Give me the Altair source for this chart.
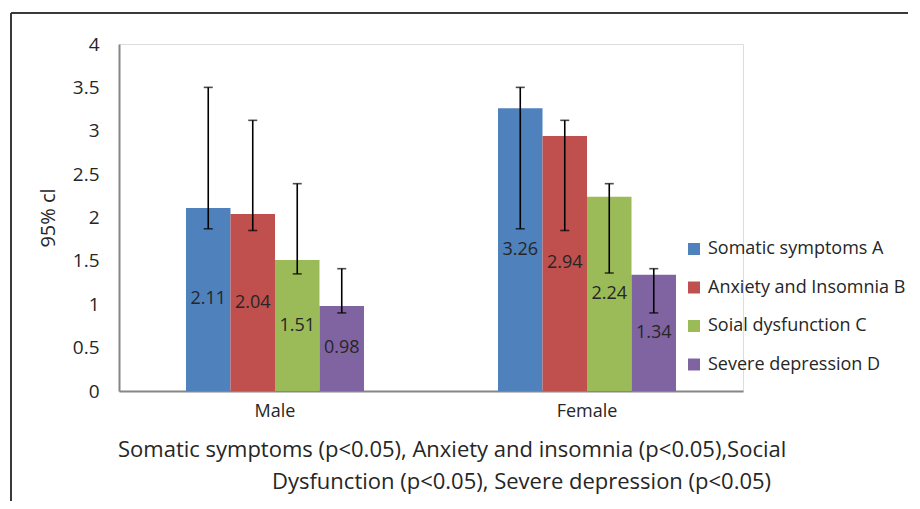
import altair as alt
import pandas as pd

groups = ["Male", "Female"]
series = ["Somatic symptoms A", "Anxiety and Insomnia B", "Soial dysfunction C", "Severe depression D"]
colors = ["#4F81BD", "#C0504D", "#9BBB59", "#8064A2"]
male_vals = [2.11, 2.04, 1.51, 0.98]
female_vals = [3.26, 2.94, 2.24, 1.34]
male_lo = [1.87, 1.85, 1.35, 0.90]
male_hi = [3.50, 3.12, 2.39, 1.41]
female_lo = [1.87, 1.85, 1.36, 0.90]
female_hi = [3.50, 3.12, 2.39, 1.41]
y_ticks = [0, 0.5, 1, 1.5, 2, 2.5, 3, 3.5, 4]
caption1 = "Somatic symptoms (p<0.05), Anxiety and insomnia (p<0.05),Social"
caption2 = "Dysfunction (p<0.05), Severe depression (p<0.05)"

rows = []
for g, vals, lo, hi in [("Male", male_vals, male_lo, male_hi), ("Female", female_vals, female_lo, female_hi)]:
    for s, v, l, h in zip(series, vals, lo, hi):
        rows.append({"group": g, "series": s, "value": v, "lo": l, "hi": h, "mid": v / 2, "label": f"{v:.2f}"})
df = pd.DataFrame(rows)

FONT = "Open Sans"
W, H = 624, 347

xenc = alt.X("group:N", sort=groups, title=None,
             scale=alt.Scale(domain=groups, paddingInner=0.4295, paddingOuter=0.2147),
             axis=alt.Axis(labelAngle=0, labelFontSize=18, labelColor="#262626", labelPadding=11,
                           ticks=False, domainColor="#868686", domainWidth=2, labelFont=FONT))
xoff = alt.XOffset("series:N", sort=series, scale=alt.Scale(paddingInner=0, paddingOuter=0))
yscale = alt.Scale(domain=[0, 4], nice=False)

base = alt.Chart(df)

bars = base.mark_bar().encode(
    x=xenc,
    xOffset=xoff,
    y=alt.Y("value:Q", scale=yscale, title="95% cl",
            axis=alt.Axis(values=y_ticks, format="~g", grid=False, ticks=False,
                          labelFontSize=19, labelColor="#262626", labelPadding=20, labelFont=FONT,
                          domainColor="#868686", domainWidth=2,
                          titleFontSize=20, titleFont=FONT, titleFontWeight="normal",
                          titleColor="#262626", titlePadding=14)),
    color=alt.Color("series:N", sort=series, scale=alt.Scale(domain=series, range=colors),
                    legend=alt.Legend(title=None, orient="none", legendX=566, legendY=196,
                                      symbolType="square", symbolSize=144, symbolStrokeWidth=0,
                                      labelFontSize=18, labelFont=FONT, labelColor="#262626",
                                      labelOffset=5, rowPadding=20.5, labelLimit=300, padding=0)),
)

labels = base.mark_text(fontSize=18, font=FONT, color="#262626", baseline="middle").encode(
    x=alt.X("group:N", sort=groups), xOffset=xoff, y=alt.Y("mid:Q"), text="label:N")

err = base.mark_rule(color="black", strokeWidth=1.6).encode(
    x=alt.X("group:N", sort=groups), xOffset=xoff, y=alt.Y("lo:Q"), y2="hi:Q")
cap_lo = base.mark_tick(color="black", thickness=1.6, size=9).encode(
    x=alt.X("group:N", sort=groups), xOffset=xoff, y=alt.Y("lo:Q"))
cap_hi = base.mark_tick(color="black", thickness=1.6, size=9).encode(
    x=alt.X("group:N", sort=groups), xOffset=xoff, y=alt.Y("hi:Q"))

cap_df = pd.DataFrame({"t": [caption1, caption2], "line": [1, 2]})
cap1 = alt.Chart(cap_df[cap_df.line == 1]).mark_text(
    fontSize=22, font=FONT, color="#262626", align="left", baseline="middle").encode(
    x=alt.value(-1), y=alt.value(406), text="t:N")
cap2 = alt.Chart(cap_df[cap_df.line == 2]).mark_text(
    fontSize=22, font=FONT, color="#262626", align="left", baseline="middle").encode(
    x=alt.value(153), y=alt.value(438), text="t:N")

frame_left = alt.Chart(pd.DataFrame({"a": [0]})).mark_rule(color="#3a3a3a", strokeWidth=2).encode(
    x=alt.value(-108), y=alt.value(-31), y2=alt.value(480))
frame_top = alt.Chart(pd.DataFrame({"a": [0]})).mark_rule(color="#3a3a3a", strokeWidth=2).encode(
    x=alt.value(-108), x2=alt.value(800), y=alt.value(-31))

chart = alt.layer(bars, labels, err, cap_lo, cap_hi, cap1, cap2, frame_left, frame_top).properties(
    width=W, height=H,
    autosize=alt.AutoSizeParams(type="none"),
    padding={"left": 111, "top": 36, "right": 165, "bottom": 110},
).configure_view(stroke=None).configure(background="white")

chart.save("out.html", embed_options={"renderer": "svg", "actions": False})
